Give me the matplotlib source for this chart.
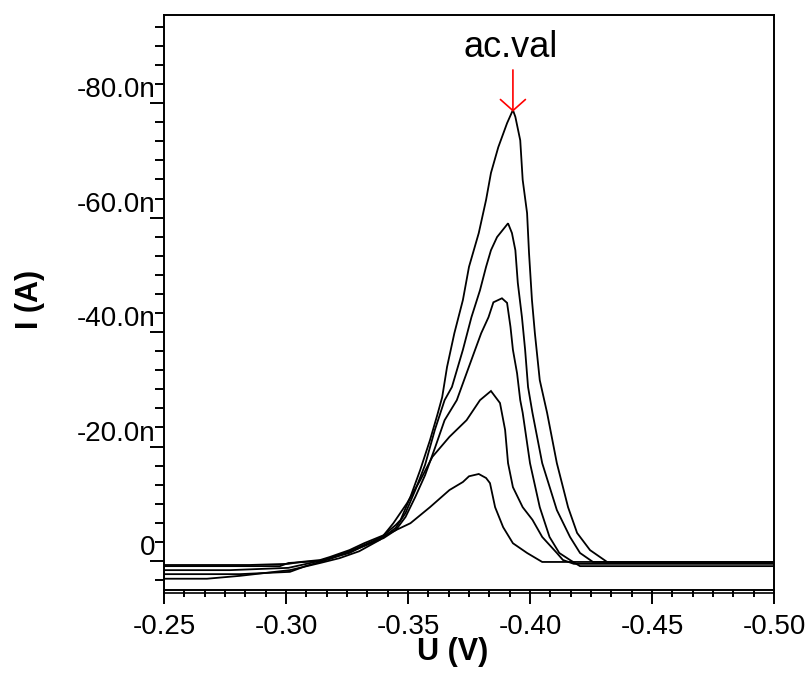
import matplotlib
matplotlib.use("Agg")
import matplotlib.pyplot as plt
from matplotlib.ticker import MultipleLocator, AutoMinorLocator, FuncFormatter
from matplotlib.transforms import offset_copy
from matplotlib.lines import Line2D

plt.rcParams['font.family'] = ['Liberation Sans', 'DejaVu Sans']

# ---- data: potential U (V) and current I (nA) for five voltammograms ----
u1 = [-0.250, -0.285, -0.301, -0.306, -0.314, -0.318, -0.326, -0.332, -0.340, -0.345,
      -0.347, -0.351, -0.355, -0.359, -0.362, -0.364, -0.366, -0.369, -0.3725, -0.375,
      -0.379, -0.382, -0.384, -0.387, -0.3906, -0.393, -0.394, -0.396, -0.397, -0.3988,
      -0.3996, -0.4008, -0.402, -0.404, -0.407, -0.411, -0.4156, -0.4193, -0.4246, -0.4316,
      -0.449, -0.500]
i1 = [0.7, 0.7, 0.5, 0.17, -0.17, -0.7, -1.9, -3.1, -4.5, -6.3,
      -7.2, -11.2, -15.9, -21.1, -25.5, -28.6, -33.9, -39.8, -45.6, -51.4,
      -57.3, -63.1, -67.8, -72.3, -76.5, -78.8, -77.6, -73.5, -66.6, -60.8,
      -53.8, -45.6, -39.8, -31.6, -25.9, -17.1, -9.4, -4.9, -1.9, 0.17,
      0.35, 0.35]

u2 = [-0.250, -0.277, -0.301, -0.310, -0.318, -0.326, -0.332, -0.340, -0.345, -0.349,
      -0.353, -0.357, -0.361, -0.365, -0.368, -0.3725, -0.376, -0.3795, -0.382, -0.384,
      -0.3865, -0.391, -0.3926, -0.394, -0.395, -0.3967, -0.398, -0.3992, -0.401, -0.405,
      -0.411, -0.4164, -0.4205, -0.4258, -0.4697, -0.500]
i2 = [1.6, 1.6, 1.2, 0.35, -0.5, -1.7, -2.8, -4.2, -5.8, -8.4,
      -12.4, -16.8, -22.9, -28.1, -30.4, -36.9, -42.6, -47.3, -51.4, -54.3,
      -56.6, -59.0, -57.3, -54.3, -48.6, -42.6, -36.9, -30.4, -25.9, -17.1,
      -8.9, -4.2, -1.4, 0.17, 0.17, 0.17]

u3 = [-0.250, -0.281, -0.3016, -0.308, -0.318, -0.326, -0.332, -0.340, -0.345, -0.349,
      -0.353, -0.357, -0.361, -0.365, -0.370, -0.3734, -0.3775, -0.380, -0.383, -0.385,
      -0.3885, -0.3906, -0.392, -0.393, -0.3947, -0.396, -0.397, -0.400, -0.404, -0.408,
      -0.412, -0.4164, -0.4205, -0.500]
i3 = [2.3, 2.3, 1.9, 0.9, -0.35, -1.6, -2.6, -4.0, -5.4, -7.7,
      -11.2, -15.0, -19.7, -24.6, -28.1, -32.1, -36.9, -39.8, -42.6, -45.2,
      -45.9, -45.1, -40.9, -36.9, -32.8, -28.1, -25.9, -17.1, -9.4, -4.2,
      -1.4, -0.17, 0.9, 0.9]

u4 = [-0.250, -0.2676, -0.281, -0.3016, -0.314, -0.322, -0.330, -0.3385, -0.344, -0.3496,
      -0.355, -0.360, -0.367, -0.374, -0.3795, -0.384, -0.3877, -0.3898, -0.391, -0.393,
      -0.397, -0.401, -0.405, -0.411, -0.4135, -0.418, -0.500]
i4 = [3.1, 3.1, 2.6, 1.6, 0.35, -0.5, -1.7, -3.7, -6.6, -10.1,
      -14.1, -18.2, -21.7, -24.6, -28.1, -29.7, -27.6, -22.9, -17.1, -12.9,
      -9.4, -7.2, -4.2, -1.4, -0.17, 0.5, 0.5]

u5 = [-0.250, -0.2975, -0.301, -0.314, -0.326, -0.334, -0.3426, -0.351, -0.359, -0.367,
      -0.3725, -0.375, -0.379, -0.382, -0.3836, -0.3857, -0.389, -0.393, -0.3988, -0.405,
      -0.500]
i5 = [0.9, 0.9, 0.35, 0.0, -1.4, -3.1, -4.9, -6.6, -9.4, -12.4,
      -13.8, -14.8, -15.2, -14.5, -13.6, -9.4, -5.9, -3.1, -1.4, 0.17,
      0.17]

series = [(u1, i1), (u2, i2), (u3, i3), (u4, i4), (u5, i5)]

x_major = [-0.25, -0.30, -0.35, -0.40, -0.45, -0.50]
y_major = [0, -20, -40, -60, -80]

peak_u, peak_i = -0.393, -78.8
note_text = "ac.val"

# ---- figure ----
fig = plt.figure(figsize=(8.11, 6.75), dpi=100)
ax = fig.add_axes([164 / 811, 1 - 590 / 675, 610 / 811, 575 / 675])

for u, i in series:
    ax.plot(u, i, color='black', lw=1.3, solid_joinstyle='miter')

ax.set_xlim(-0.25, -0.50)
ax.set_ylim(5.07, -95.4)

ax.xaxis.set_major_locator(plt.FixedLocator(x_major))
ax.xaxis.set_minor_locator(AutoMinorLocator(6))
ax.yaxis.set_major_locator(plt.FixedLocator(y_major))
ax.yaxis.set_minor_locator(AutoMinorLocator(6))

ax.xaxis.set_major_formatter(FuncFormatter(lambda v, p: f"{v:.2f}"))
ax.yaxis.set_major_formatter(FuncFormatter(lambda v, p: "0" if abs(v) < 1e-9 else f"{v:.1f}n"))

for s in ax.spines.values():
    s.set_linewidth(1.4)

ax.tick_params(axis='both', which='both', direction='out', width=1.4, color='black')
ax.tick_params(axis='x', which='major', length=10, pad=7, labelsize=20)
ax.tick_params(axis='x', which='minor', length=5)
ax.tick_params(axis='y', which='major', length=10, pad=-4, labelsize=20)
ax.tick_params(axis='y', which='minor', length=6.5)
for lab in ax.get_yticklabels():
    lab.set_verticalalignment('bottom')

# doubled bottom axis line
trans = offset_copy(ax.transAxes, fig=fig, y=-3, units='dots')
ax.add_line(Line2D([0, 1], [0, 0], transform=trans, color='black', lw=1.2, clip_on=False))

ax.set_xlabel("U (V)", fontsize=22, fontweight='bold')
ax.xaxis.set_label_coords((453 - 164) / 610, -0.108)
ax.xaxis.label.set_verticalalignment('center')
ax.set_ylabel("I (A)", fontsize=22, fontweight='bold')
ax.yaxis.set_label_coords((30 - 164) / 610, (590 - 299) / 575)
ax.yaxis.label.set_verticalalignment('center')

ax.annotate('', xy=(peak_u, peak_i + 0.3), xytext=(peak_u, peak_i - 7.0),
            arrowprops=dict(arrowstyle='->,head_length=0.4,head_width=0.45',
                            color='red', lw=1.2, shrinkA=0, shrinkB=0, mutation_scale=20))
ax.text(peak_u + 0.0008, peak_i - 11.0, note_text, fontsize=26, ha='center', va='center')

fig.savefig("out.png", dpi=100)
